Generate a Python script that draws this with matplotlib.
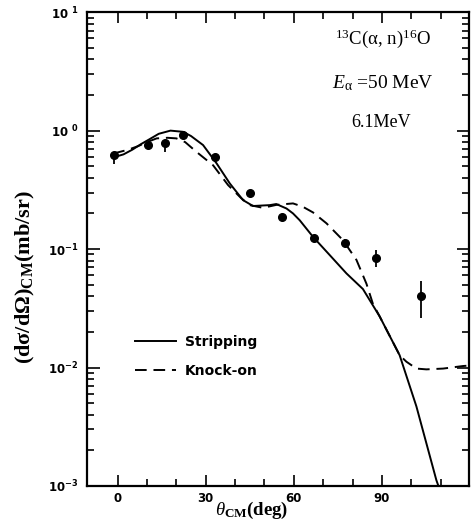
import matplotlib
matplotlib.use("Agg")
import matplotlib.pyplot as plt
from matplotlib.ticker import FixedLocator, LogLocator, NullFormatter

plt.rcParams['mathtext.fontset'] = 'custom'
plt.rcParams['mathtext.default'] = 'regular'
plt.rcParams['mathtext.rm'] = 'Liberation Serif'
plt.rcParams['mathtext.it'] = 'Liberation Serif:italic'
plt.rcParams['mathtext.bf'] = 'Liberation Serif:bold'

# Measured cross sections (angle in deg, value in mb/sr) with error-bar limits
theta_exp = [-1.2, 10.4, 16.2, 22.1, 33.2, 45.0, 56.0, 66.7, 77.3, 87.8, 103.1]
sigma_exp = [0.62, 0.755, 0.78, 0.92, 0.597, 0.297, 0.185, 0.123, 0.113, 0.0836, 0.0404]
sigma_lo = [0.52, 0.72, 0.66, 0.88, 0.57, 0.285, 0.175, 0.114, 0.104, 0.0705, 0.026]
sigma_hi = [0.66, 0.79, 0.81, 0.96, 0.625, 0.31, 0.195, 0.132, 0.122, 0.098, 0.054]

# Stripping (solid) calculation
theta_strip = [-1.5, 2, 5, 8, 11, 14, 18, 22.3, 25, 29.1, 33.7, 38.2, 42.7, 46.1,
               51.8, 54, 57.5, 59.7, 62, 66.5, 72.2, 77.9, 83.5, 89.2, 96, 101.7,
               108.5, 109.2]
sigma_strip = [0.594, 0.63, 0.69, 0.77, 0.85, 0.94, 1.0, 0.977, 0.9, 0.755, 0.529,
               0.358, 0.259, 0.231, 0.235, 0.24, 0.22, 0.2, 0.175, 0.127, 0.089,
               0.0623, 0.046, 0.027, 0.0127, 0.0047, 0.00112, 0.001]

# Knock-on (dashed) calculation
theta_knock = [-1.5, 3.6, 7, 10, 13.3, 17, 20, 23, 26.9, 32.5, 37.6, 42, 45, 49.5,
               54, 59.7, 63, 66.5, 71.1, 76.7, 81.3, 84.7, 86.9, 89.2, 96, 98.3,
               101.7, 105.1, 110.8, 117.6, 120]
sigma_knock = [0.64, 0.69, 0.74, 0.80, 0.86, 0.87, 0.86, 0.80, 0.66, 0.51, 0.347,
               0.27, 0.235, 0.223, 0.236, 0.243, 0.228, 0.204, 0.165, 0.119, 0.081,
               0.051, 0.0345, 0.027, 0.0127, 0.0112, 0.0098, 0.00965, 0.0098,
               0.0103, 0.0104]

x_major = [0, 30, 60, 90, 120]
y_major = [1e-3, 1e-2, 1e-1, 1e0, 1e1]
y_labels = ['10$^{-3}$', '10$^{-2}$', '10$^{-1}$', '10 $^{0}$', '10 $^{1}$']

fig = plt.figure(figsize=(4.73, 5.29), dpi=100)
ax = fig.add_axes([0.184, 0.0813, 0.8075, 0.8957])

ax.plot(theta_strip, sigma_strip, '-', color='black', lw=1.4, label='Stripping')
ax.plot(theta_knock, sigma_knock, '--', color='black', lw=1.4,
        dashes=(6, 3.5), label='Knock-on')

yerr = [[s - l for s, l in zip(sigma_exp, sigma_lo)],
        [h - s for s, h in zip(sigma_exp, sigma_hi)]]
ax.errorbar(theta_exp, sigma_exp, yerr=yerr, fmt='o', color='black',
            ms=5.5, elinewidth=1.3, capsize=0)

ax.set_yscale('log')
ax.set_xlim(-10.4, 119.6)
ax.set_ylim(1e-3, 10)

ax.xaxis.set_major_locator(FixedLocator(x_major))
ax.xaxis.set_minor_locator(FixedLocator(range(0, 121, 10)))
ax.set_xticklabels([str(v) for v in x_major], fontsize=8.5, fontweight='bold')
ax.yaxis.set_major_locator(FixedLocator(y_major))
ax.yaxis.set_minor_locator(LogLocator(base=10, subs=range(2, 10)))
ax.yaxis.set_minor_formatter(NullFormatter())
ax.set_yticklabels(y_labels, fontsize=8.5, fontweight='bold')

ax.tick_params(which='both', direction='in', top=True, right=True, width=1.2)
ax.tick_params(axis='x', which='major', length=8, pad=4)
ax.tick_params(axis='y', which='major', length=9, pad=6)
ax.tick_params(which='minor', length=5)
for s in ax.spines.values():
    s.set_linewidth(1.6)

ax.set_xlabel(r'$\mathit{\theta}_{CM}$(deg)', fontsize=13.5,
              family='Liberation Serif', fontweight='bold')
ax.xaxis.set_label_coords(0.432, -0.03)
ax.set_ylabel(r'(d$\sigma$/d$\Omega$)$_{CM}$(mb/sr)', fontsize=16,
              family='Liberation Serif', fontweight='bold')
ax.yaxis.set_label_coords(-0.13, 0.44)

ax.text(0.775, 0.968, r'$^{13}$C($\alpha$, n)$^{16}$O', transform=ax.transAxes,
        ha='center', va='top', fontsize=13.5, family='Liberation Serif')
ax.text(0.775, 0.872, r'$\mathit{E}_{\alpha}$ =50 MeV', transform=ax.transAxes,
        ha='center', va='top', fontsize=14, family='Liberation Serif')
ax.text(0.77, 0.785, '6.1MeV', transform=ax.transAxes,
        ha='center', va='top', fontsize=13, family='Liberation Serif')

ax.legend(loc='upper left', bbox_to_anchor=(0.092, 0.345), frameon=False,
          handlelength=3.0, handletextpad=0.6, labelspacing=1.05,
          prop={'family': 'DejaVu Sans', 'weight': 'bold', 'size': 10})

fig.savefig('out.png', dpi=100)
